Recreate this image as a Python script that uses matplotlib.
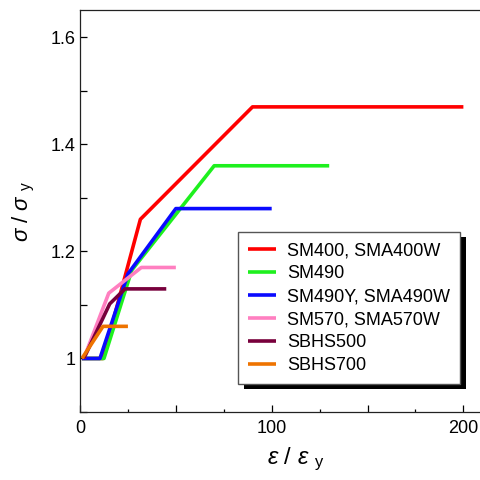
import numpy as np
import matplotlib
matplotlib.use('Agg')
import matplotlib.pyplot as plt
from matplotlib.patches import Rectangle
from matplotlib.transforms import IdentityTransform
from matplotlib.ticker import MultipleLocator, FuncFormatter

plt.rcParams['font.family'] = ['Liberation Sans', 'DejaVu Sans']
plt.rcParams['mathtext.fontset'] = 'custom'
plt.rcParams['mathtext.rm'] = 'Liberation Sans'
plt.rcParams['mathtext.it'] = 'Liberation Sans:italic'

# datos: (eps/eps_y, sigma/sigma_y)
nombres = ['SM400, SMA400W', 'SM490', 'SM490Y, SMA490W',
           'SM570, SMA570W', 'SBHS500', 'SBHS700']
colores = ['#ff0000', '#1ef01e', '#0a0aff', '#ff7fc0', '#78003c', '#ee7300']

x_sm400 = [1, 12, 31.5, 90, 200]
y_sm400 = [1, 1, 1.26, 1.47, 1.47]
x_sm490 = [1, 12.5, 27, 70, 130]
y_sm490 = [1, 1, 1.165, 1.36, 1.36]
x_sm490y = [1, 10.4, 25, 50, 100]
y_sm490y = [1, 1, 1.158, 1.28, 1.28]
x_sm570 = [2, 15, 32, 50]
y_sm570 = [1, 1.122, 1.17, 1.17]
x_sbhs500 = [2, 15.5, 23.5, 45]
y_sbhs500 = [1, 1.102, 1.13, 1.13]
x_sbhs700 = [1, 12, 25]
y_sbhs700 = [1, 1.06, 1.06]

xs = [x_sm400, x_sm490, x_sm490y, x_sm570, x_sbhs500, x_sbhs700]
ys = [y_sm400, y_sm490, y_sm490y, y_sm570, y_sbhs500, y_sbhs700]

fig = plt.figure(figsize=(4.8, 4.8), dpi=100)
# el eje se sale por la derecha de la figura, como en el original
ax = fig.add_axes([80 / 480, 68 / 480, 431.3 / 480, 402 / 480])

for x, y, c, n in zip(xs, ys, colores, nombres):
    ax.plot(x, y, color=c, lw=2.6, label=n, solid_capstyle='butt')

ax.set_xlim(0, 225)
ax.set_ylim(0.9, 1.651)

ax.xaxis.set_major_locator(MultipleLocator(50))
ax.xaxis.set_minor_locator(MultipleLocator(25))
ax.yaxis.set_major_locator(MultipleLocator(0.1))
ax.xaxis.set_major_formatter(FuncFormatter(
    lambda v, p: '%d' % v if abs(v % 100) < 1e-6 else ''))


def fmt_y(v, p):
    k = int(round(v * 10))
    if k % 2:
        return ''
    if k == 10:
        return '1'
    return '%.1f' % v


ax.yaxis.set_major_formatter(FuncFormatter(fmt_y))
ax.tick_params(which='major', direction='in', length=5, width=0.9,
               labelsize=13, top=False, right=False)
ax.tick_params(axis='x', which='major', pad=6)
ax.tick_params(axis='y', which='major', pad=3)
ax.tick_params(which='minor', direction='in', length=2.5, width=0.9,
               top=False, right=False)
for s in ax.spines.values():
    s.set_linewidth(0.9)
    s.set_color('#222222')

ax.set_xlabel(r'$\varepsilon$ / $\varepsilon$ $_{\rm y}$', fontsize=17, labelpad=6)
ax.set_ylabel(r'$\sigma$ / $\sigma$ $_{\rm y}$', fontsize=16, labelpad=10)

leg = ax.legend(loc='lower right', bbox_to_anchor=(460 / 480, 96 / 480),
                bbox_transform=fig.transFigure, borderaxespad=0,
                fontsize=13, handlelength=1.55, handletextpad=0.6,
                labelspacing=0.33, borderpad=0.55, fancybox=False,
                framealpha=1, edgecolor='#555555')
leg.get_frame().set_linewidth(1.0)
leg.set_zorder(6)

# sombra negra del cuadro de leyenda
fig.canvas.draw()
bb = leg.get_window_extent()
sombra = Rectangle((bb.x0 + 6, bb.y0 - 5), bb.width, bb.height,
                   transform=IdentityTransform(), facecolor='black',
                   edgecolor='none', zorder=5)
ax.add_artist(sombra)

fig.savefig('out.png', dpi=100)
